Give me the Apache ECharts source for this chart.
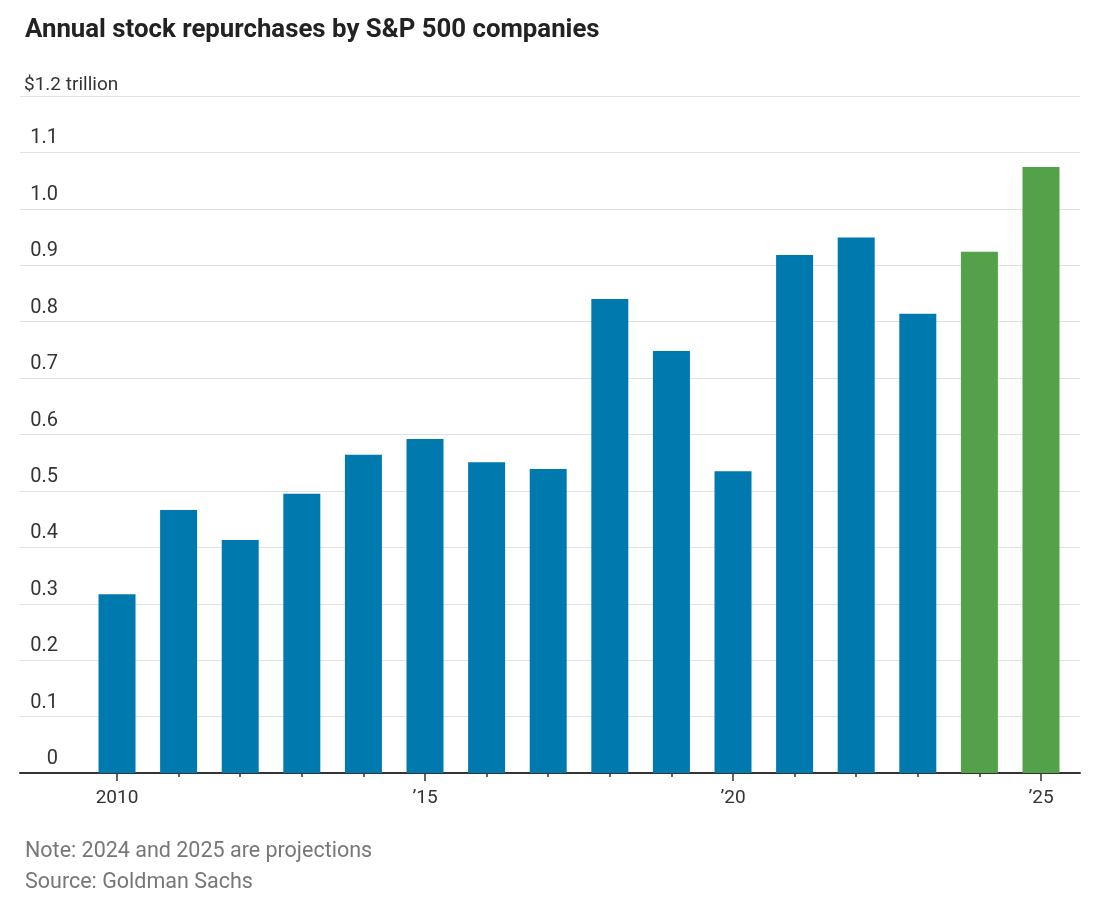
<!DOCTYPE html>
<html lang="en">
  <head>
    <meta charset="UTF-8" />
    <title>Annual stock repurchases by S&amp;P 500 companies</title>
    <script src="https://cdn.jsdelivr.net/npm/echarts@6/dist/echarts.min.js"></script>
    <style>
      html, body { margin: 0; padding: 0; background: #fff; }
      #main { width: 1100px; height: 900px; }
    </style>
  </head>
  <body>
    <div id="main"></div>
  </body>
  <script>
    // 数据 (trillion $)
    const years = [2010, 2011, 2012, 2013, 2014, 2015, 2016, 2017, 2018, 2019, 2020, 2021, 2022, 2023, 2024, 2025];
    const buybacks = [0.317, 0.466, 0.413, 0.495, 0.564, 0.592, 0.551, 0.539, 0.840, 0.748, 0.535, 0.918, 0.949, 0.814, 0.924, 1.074];
    const projected = [2024, 2025];
    const labelYears = [2010, 2015, 2020, 2025];

    const font = "Roboto, 'Noto Sans', sans-serif";
    const blue = "#0079ae";
    const green = "#53a148";

    var myChart = echarts.init(document.getElementById("main"));

    var barData = years.map(function (y, i) {
      return {
        value: [y, buybacks[i]],
        itemStyle: { color: projected.indexOf(y) >= 0 ? green : blue },
      };
    });

    var option = {
      animation: false,
      title: [
        {
          text: "Annual stock repurchases by S&P 500 companies",
          left: 20,
          top: 13,
          textStyle: { fontFamily: font, fontSize: 25.8, fontWeight: "bold", color: "#222" },
        },
        {
          text: "$1.2 trillion",
          left: 19,
          top: 71,
          textStyle: { fontFamily: font, fontSize: 19, fontWeight: "normal", color: "#333" },
        },
        {
          text: "Note: 2024 and 2025 are projections",
          left: 20,
          top: 836,
          textStyle: { fontFamily: font, fontSize: 21.5, fontWeight: "normal", color: "#777" },
        },
        {
          text: "Source: Goldman Sachs",
          left: 20,
          top: 867,
          textStyle: { fontFamily: font, fontSize: 21.5, fontWeight: "normal", color: "#777" },
        },
      ],
      grid: { left: 20, right: 20, top: 96, bottom: 127, containLabel: false },
      xAxis: [
        {
          type: "value",
          min: 2008.425,
          max: 2025.633,
          axisLine: { show: true, lineStyle: { color: "#333", width: 2 } },
          axisTick: { show: true, customValues: years, length: 4, lineStyle: { color: "#333", width: 1.5 } },
          axisLabel: { show: false },
          splitLine: { show: false },
        },
        {
          type: "value",
          position: "bottom",
          min: 2008.425,
          max: 2025.633,
          axisLine: { show: false },
          axisTick: { show: true, customValues: labelYears, length: 8, lineStyle: { color: "#333", width: 1.5 } },
          axisLabel: {
            show: true,
            customValues: labelYears,
            margin: 16,
            fontFamily: font,
            fontSize: 19,
            color: "#333",
            formatter: function (v) {
              return v === 2010 ? "2010" : "\u2019" + String(v).slice(2);
            },
          },
          splitLine: { show: false },
        },
      ],
      yAxis: {
        type: "value",
        min: 0,
        max: 1.2,
        interval: 0.1,
        axisLine: { show: false },
        axisTick: { show: false },
        splitLine: { show: true, lineStyle: { color: "#e2e2e2", width: 1 } },
        axisLabel: {
          inside: true,
          margin: 38,
          align: "right",
          verticalAlign: "bottom",
          padding: [0, 0, 4, 0],
          fontFamily: font,
          fontSize: 20,
          color: "#333",
          formatter: function (v) {
            var t = Math.round(v * 10) / 10;
            if (t === 1.2) return "";
            return t === 0 ? "0" : t.toFixed(1);
          },
        },
      },
      series: [
        {
          type: "bar",
          xAxisIndex: 0,
          barWidth: 37,
          data: barData,
        },
      ],
    };
    myChart.setOption(option);
  </script>
</html>
